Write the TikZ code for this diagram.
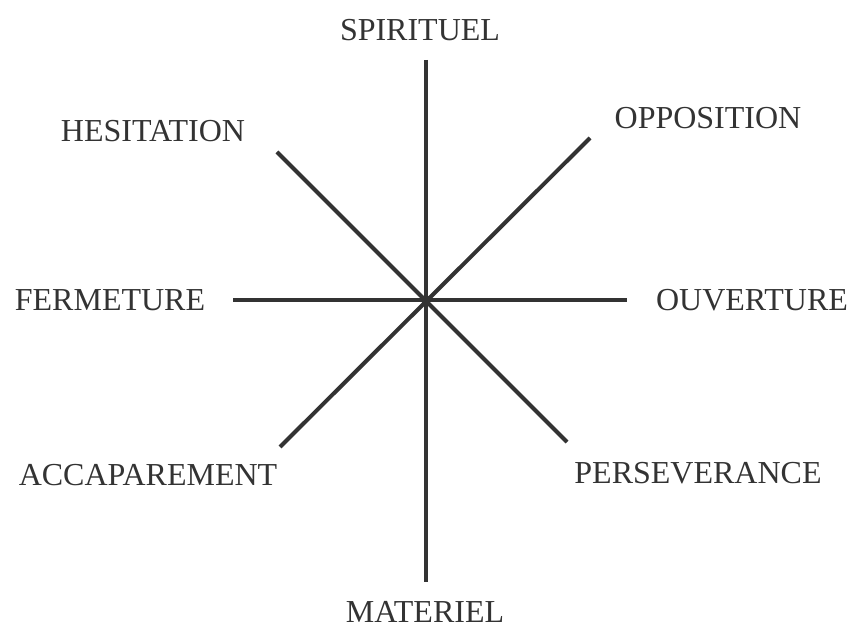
\documentclass[tikz,border=0pt]{standalone}
\usepackage{fontspec}
\setmainfont{Liberation Serif}
\definecolor{axisgray}{HTML}{333333}

\begin{document}
\begin{tikzpicture}[x=0.5pt, y=-0.5pt,
        lbl/.style={font=\fontsize{16}{18}\selectfont, text=axisgray, inner sep=0pt},
        ax/.style={draw=axisgray, line width=2pt}]
      \useasboundingbox (0,0) rectangle (858,630);
      \coordinate (c) at (426,300);
      % axis ends
      \coordinate (n) at (426,60);
      \coordinate (s) at (426,582);
      \coordinate (w) at (233,300);
      \coordinate (e) at (627,300);
      \coordinate (ne) at (590,138);
      \coordinate (sw) at (280,447);
      \coordinate (nw) at (277,152);
      \coordinate (se) at (567,442);
      % labels
      \node[lbl] (spi) at (420,30) {SPIRITUEL};
      \node[lbl] (mat) at (425,612) {MATERIEL};
      \node[lbl] (fer) at (110,300) {FERMETURE};
      \node[lbl] (ouv) at (752,300) {OUVERTURE};
      \node[lbl] (hes) at (153,131) {HESITATION};
      \node[lbl] (opp) at (708,118) {OPPOSITION};
      \node[lbl] (acc) at (148,475) {ACCAPAREMENT};
      \node[lbl] (per) at (698,473) {PERSEVERANCE};
      % star
      \draw[ax] (n) -- (s);
      \draw[ax] (ne) -- (sw);
      \draw[ax] (nw) -- (se);
      \draw[ax] (w) -- (e);
      \fill[axisgray] (c) circle (5);
      \end{tikzpicture}
\end{document}
